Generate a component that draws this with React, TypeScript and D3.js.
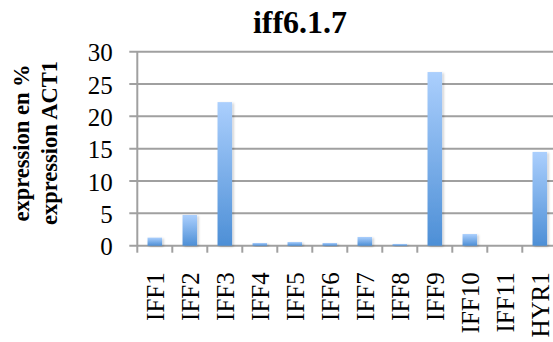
import React from 'react';
import * as d3 from 'd3';

// data
const categories = ['IFF1', 'IFF2', 'IFF3', 'IFF4', 'IFF5', 'IFF6', 'IFF7', 'IFF8', 'IFF9', 'IFF10', 'IFF11', 'HYR1'];
const values = [1.25, 4.75, 22.2, 0.42, 0.57, 0.42, 1.35, 0.27, 26.85, 1.8, 0, 14.5];
const yTicks = [0, 5, 10, 15, 20, 25, 30];
const title = 'iff6.1.7';
const yTitle = ['expression en %', 'expression ACT1'];

const width = 553;
const height = 342;
const plot = { left: 137.3, top: 51.7, bottom: 245.7, right: 557.3 };
const serif = '"Liberation Serif", "Times New Roman", serif';
const gridColor = '#a0a0a0';

export default function App() {
  const x = d3
    .scaleBand<string>()
    .domain(categories)
    .range([plot.left, plot.right])
    .paddingInner(0.585)
    .paddingOuter(0.2925);
  const y = d3.scaleLinear().domain([0, 30]).range([plot.bottom, plot.top]);
  const step = x.step();

  return (
    <div style={{ position: 'absolute', left: 0, top: 0 }}>
      <svg width={width} height={height} style={{ display: 'block', background: '#fff' }}>
        <defs>
          <linearGradient id="barGrad" x1="0" y1="0" x2="0" y2="1">
            <stop offset="0%" stopColor="#abcffd" />
            <stop offset="100%" stopColor="#4d8fd6" />
          </linearGradient>
          <filter id="shadow" x="-30%" y="-10%" width="160%" height="130%">
            <feDropShadow dx="1.5" dy="1" stdDeviation="1.2" floodColor="#000" floodOpacity="0.22" />
          </filter>
        </defs>

        {/* title */}
        <text x={300} y={33} fontFamily={serif} fontSize={32} fontWeight="bold" textAnchor="middle">
          {title}
        </text>

        {/* y axis title */}
        {yTitle.map((t, i) => (
          <text
            key={t}
            transform={`translate(${29 + i * 28},143) rotate(-90)`}
            fontFamily={serif}
            fontSize={22.5}
            fontWeight="bold"
            textAnchor="middle"
          >
            {t}
          </text>
        ))}

        {/* gridlines + y ticks */}
        {yTicks.map((t) => (
          <g key={t}>
            <line x1={plot.left - 8} x2={width} y1={y(t)} y2={y(t)} stroke={gridColor} strokeWidth={2} />
            <text x={112.7} y={y(t) + 9.5} fontFamily={serif} fontSize={25} textAnchor="end">
              {t}
            </text>
          </g>
        ))}

        {/* y axis line */}
        <line x1={plot.left} x2={plot.left} y1={plot.top} y2={plot.bottom} stroke={gridColor} strokeWidth={2} />

        {/* x ticks */}
        {categories.map((c) => (
          <line
            key={c}
            x1={(x(c) as number) - (step - x.bandwidth()) / 2}
            x2={(x(c) as number) - (step - x.bandwidth()) / 2}
            y1={plot.bottom}
            y2={plot.bottom + 7}
            stroke={gridColor}
            strokeWidth={2}
          />
        ))}

        {/* bars */}
        {categories.map((c, i) =>
          values[i] > 0 ? (
            <rect
              key={c}
              x={x(c)}
              y={y(values[i])}
              width={x.bandwidth()}
              height={y(0) - y(values[i])}
              fill="url(#barGrad)"
              filter="url(#shadow)"
            />
          ) : null,
        )}

        {/* category labels */}
        {categories.map((c) => {
          const cx = (x(c) as number) + x.bandwidth() / 2;
          return (
            <text
              key={c}
              transform={`translate(${cx + 9},272.3) rotate(-90)`}
              fontFamily={serif}
              fontSize={25}
              textAnchor="end"
            >
              {c}
            </text>
          );
        })}
      </svg>
    </div>
  );
}
